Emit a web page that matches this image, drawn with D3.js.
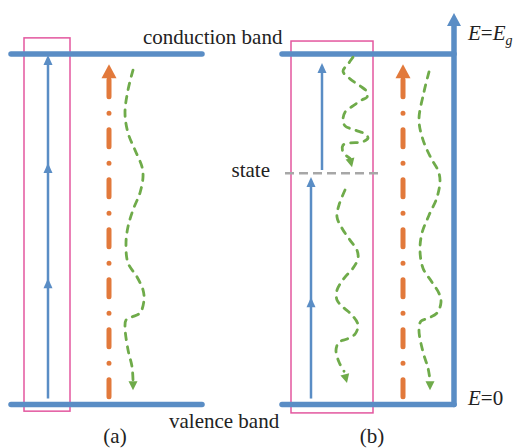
<!DOCTYPE html>
<html>
<head>
<meta charset="utf-8">
<script src="https://cdn.jsdelivr.net/npm/d3@7"></script>
<style>
  html, body { margin: 0; padding: 0; background: #fff; }
</style>
</head>
<body>
<svg id="fig" width="514" height="448"></svg>
<script>
// Energies are given as fractions of the band gap: valence band edge = 0, conduction band edge = Eg = 1.
const bandLabels = ["conduction band", "valence band"];
const panelTags = ["(a)", "(b)"];
const stateLabel = "state";
const stateEnergy = 0.66;

// window (detection range) in energy units, per panel: [top, bottom]
const windowE = [[1.046, -0.019], [1.037, -0.024]];

// stepwise absorption: energies at which each photon step ends
const pumpA = [0.017, 0.360, 0.689, 0.997];
const pumpB = [[0.017, 0.306, 0.649], [0.669, 0.974]];

// direct band-to-band excitation (dash-dot), bottom and tip
const directE = [0.007, 0.971];

// relaxation paths (dashed, wavy): [lateral position, energy]
const relaxA = [
  [133, 0.954], [128, 0.897], [125, 0.832], [128, 0.775], [135, 0.726], [142, 0.678],
  [143, 0.649], [140, 0.604], [133, 0.555], [128, 0.507], [126, 0.461], [128, 0.404],
  [137, 0.364], [143, 0.327], [144, 0.298], [140, 0.261], [132, 0.250], [126, 0.241],
  [125, 0.221], [128, 0.156], [132, 0.108], [133, 0.070]
];
const relaxATip = [133, 0.041];

const relaxBOuter = [
  [429, 0.949], [424, 0.892], [419, 0.812], [423, 0.755], [431, 0.703], [438, 0.668],
  [440, 0.640], [437, 0.591], [429, 0.540], [422, 0.489], [420, 0.440], [423, 0.389],
  [432, 0.349], [439, 0.317], [441, 0.292], [437, 0.261], [428, 0.246], [421, 0.238],
  [419, 0.212], [423, 0.150], [428, 0.104], [430, 0.070]
];
const relaxBOuterTip = [430, 0.041];

const relaxBUpper = [
  [353, 0.991], [348, 0.971], [343, 0.951], [350, 0.929], [360, 0.909], [367, 0.892],
  [367, 0.877], [362, 0.869], [353, 0.852], [345, 0.834], [343, 0.812], [345, 0.795],
  [355, 0.783], [365, 0.772], [368, 0.760], [362, 0.749], [350, 0.746], [343, 0.740],
  [343, 0.720], [350, 0.702]
];
const relaxBUpperTip = [352, 0.677];

const relaxBLower = [
  [345, 0.612], [339, 0.569], [337, 0.535], [342, 0.503], [350, 0.469], [357, 0.440],
  [358, 0.417], [353, 0.389], [344, 0.360], [337, 0.326], [337, 0.298], [343, 0.278],
  [352, 0.255], [358, 0.227], [355, 0.201], [347, 0.187], [339, 0.178], [336, 0.155],
  [339, 0.121], [344, 0.095]
];
const relaxBLowerTip = [347, 0.061];

// ---- layout ----
const W = 514, H = 448;
const svg = d3.select("#fig");
const y = d3.scaleLinear().domain([0, 1]).range([404.5, 54]);
const x = d3.scaleLinear().domain([0, W]).range([0, W]);

const BLUE = "#5a8dc5", ORANGE = "#e2793b", GREEN = "#6fab4a",
      PINK = "#e3579f", GRAY = "#a7a7a7";
const SERIF = "'Liberation Serif', 'Times New Roman', Times, 'DejaVu Serif', serif";

const bandSpan = [[11, 202], [282, 454]];
const windowX = [[24, 70], [291, 373]];
const axisX = 454;
const axisTopE = 1.117;

function head(g, tip, from, len, wid, color) {
  const dx = tip[0] - from[0], dy = tip[1] - from[1];
  const L = Math.hypot(dx, dy), ux = dx / L, uy = dy / L;
  const bx = tip[0] - ux * len, by = tip[1] - uy * len;
  const px = -uy * wid / 2, py = ux * wid / 2;
  g.append("path")
    .attr("d", `M${tip[0]},${tip[1]}L${bx + px},${by + py}L${bx - px},${by - py}Z`)
    .attr("fill", color);
}

// detection windows
windowX.forEach((wx, i) => {
  svg.append("rect")
    .attr("x", x(wx[0])).attr("y", y(windowE[i][0]))
    .attr("width", x(wx[1]) - x(wx[0]))
    .attr("height", y(windowE[i][1]) - y(windowE[i][0]))
    .attr("fill", "none").attr("stroke", PINK).attr("stroke-width", 1.5);
});

// bands
const bands = svg.append("g").attr("stroke", BLUE).attr("stroke-width", 5.5)
  .attr("stroke-linecap", "round").attr("fill", "none");
bandSpan.forEach(s => {
  [1, 0].forEach(e => {
    bands.append("line").attr("x1", x(s[0])).attr("x2", x(s[1]))
      .attr("y1", y(e)).attr("y2", y(e));
  });
});
// energy axis of panel (b)
bands.append("line").attr("x1", x(axisX)).attr("x2", x(axisX))
  .attr("y1", y(0)).attr("y2", y(axisTopE) + 12);
head(svg, [x(axisX), y(axisTopE)], [x(axisX), y(0)], 13, 14, BLUE);

// trap state
svg.append("line")
  .attr("x1", x(285)).attr("x2", x(383))
  .attr("y1", y(stateEnergy)).attr("y2", y(stateEnergy))
  .attr("stroke", GRAY).attr("stroke-width", 2.5).attr("stroke-dasharray", "9,5");

// stepwise absorption arrows
function pump(lane, steps) {
  const top = y(steps[steps.length - 1]);
  svg.append("line")
    .attr("x1", x(lane)).attr("x2", x(lane))
    .attr("y1", y(steps[0])).attr("y2", top + 6)
    .attr("stroke", BLUE).attr("stroke-width", 2.5);
  steps.slice(1).forEach(e => {
    head(svg, [x(lane), y(e)], [x(lane), y(e) + 20], 10, 9, BLUE);
  });
}
pump(48, pumpA);
pump(311, pumpB[0]);
pump(322, pumpB[1]);

// direct excitation (dash-dot)
[109, 403].forEach(lane => {
  const tip = y(directE[1]);
  svg.append("line")
    .attr("x1", x(lane)).attr("x2", x(lane))
    .attr("y1", tip + 15.5).attr("y2", y(directE[0]))
    .attr("stroke", ORANGE).attr("stroke-width", 5)
    .attr("stroke-linecap", "round")
    .attr("stroke-dasharray", "17,16.5,0.01,16.5");
  head(svg, [x(lane), tip], [x(lane), tip + 20], 14, 15, ORANGE);
});

// relaxation paths
const wave = d3.line().x(d => x(d[0])).y(d => y(d[1])).curve(d3.curveCatmullRom.alpha(0.5));
[[relaxA, relaxATip], [relaxBOuter, relaxBOuterTip],
 [relaxBUpper, relaxBUpperTip], [relaxBLower, relaxBLowerTip]].forEach(([pts, tip]) => {
  svg.append("path").attr("d", wave(pts))
    .attr("fill", "none").attr("stroke", GREEN).attr("stroke-width", 2.8)
    .attr("stroke-linecap", "round").attr("stroke-dasharray", "6.5,7");
  const last = pts[pts.length - 1];
  head(svg, [x(tip[0]), y(tip[1])], [x(last[0]), y(last[1])], 9, 9, GREEN);
});

// labels
const fs = 21;
function label(xp, yp, anchor) {
  return svg.append("text").attr("x", xp).attr("y", yp)
    .attr("font-family", SERIF).attr("font-size", fs)
    .attr("fill", "#222").attr("text-anchor", anchor);
}
label(143, 44, "start").text(bandLabels[0]);
label(169, 428, "start").text(bandLabels[1]);
label(270, 177, "end").text(stateLabel);
label(115, 443, "middle").text(panelTags[0]);
label(372, 443, "middle").text(panelTags[1]);

const eg = label(468, 40, "start");
eg.append("tspan").attr("font-style", "italic").text("E");
eg.append("tspan").text("=");
eg.append("tspan").attr("font-style", "italic").text("E");
eg.append("tspan").attr("font-style", "italic").attr("font-size", 14).attr("dy", 5).text("g");

const e0 = label(468, 405, "start");
e0.append("tspan").attr("font-style", "italic").text("E");
e0.append("tspan").text("=0");
</script>
</body>
</html>
